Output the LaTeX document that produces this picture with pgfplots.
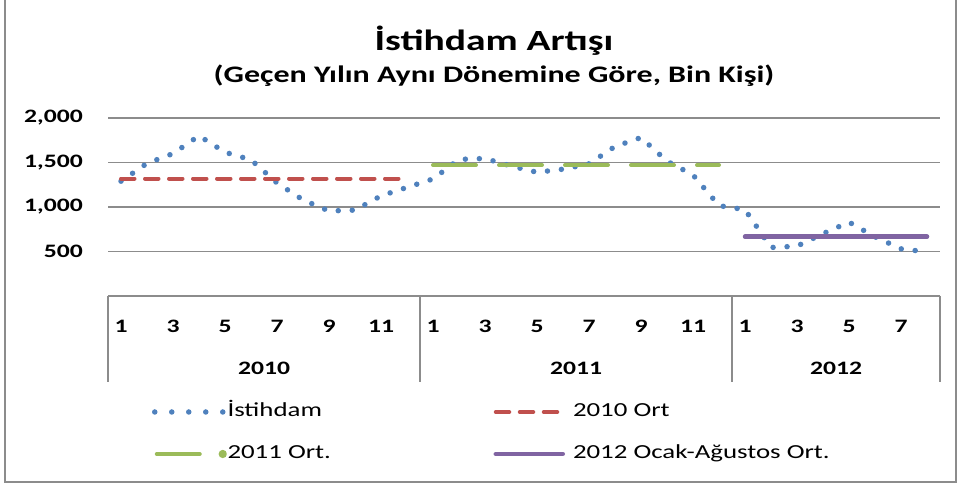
\documentclass[border=0pt]{standalone}
\usepackage{pgfplots}
\pgfplotsset{compat=1.18}
\usepackage{fontspec}
\setmainfont{Carlito}[FakeStretch=1.35]
\definecolor{cBlue}{HTML}{4F81BD}
\definecolor{cRed}{HTML}{C0504D}
\definecolor{cGreen}{HTML}{9BBB59}
\definecolor{cPurple}{HTML}{8064A2}
\definecolor{cGrid}{HTML}{8C8C8C}
\definecolor{cFrame}{HTML}{8C8C8C}
\begin{document}
\begin{tikzpicture}[x=1bp,y=1bp]
\useasboundingbox (0,0) rectangle (960,485);
\draw[color=cFrame, line width=1.5bp] (5,485) -- (5,3) -- (956,3) -- (956,485);
\node[anchor=base, font=\bfseries\fontsize{29.3bp}{34bp}\selectfont] at (494,434) {İstihdam Artışı};
\node[anchor=base, font=\bfseries\fontsize{23.7bp}{28bp}\selectfont] at (494,402) {(Geçen Yılın Aynı Dönemine Göre, Bin Kişi)};
\begin{axis}[
  at={(108bp,189bp)}, anchor=south west,
  scale only axis, width=832bp, height=178bp,
  xmin=0.5, xmax=32.5, ymin=0, ymax=2000,
  clip=false,
  axis line style={draw=none},
  major tick length=0pt,
  ytick={500,1000,1500,2000},
  yticklabels={500,{1,000},{1,500},{2,000}},
  xtick={1,3,...,31},
  xticklabels={1,3,5,7,9,11,1,3,5,7,9,11,1,3,5,7},
  ymajorgrids, grid style={color=cGrid, line width=1.5bp},
  /pgf/number format/assume math mode=true,
  ticklabel style={font=\bfseries\fontsize{19bp}{22bp}\selectfont, inner sep=0pt},
  yticklabel style={anchor=east, xshift=-25bp},
  xticklabel style={anchor=center, yshift=-30bp},
  legend columns=2,
  legend cell align=left,
  legend style={at={(0,0)}, anchor=north west, xshift=44bp, yshift=-107bp,
    draw=none, fill=none, inner sep=0pt, outer sep=0pt, row sep=24bp, column sep=0pt,
    font=\fontsize{19.9bp}{24bp}\selectfont,
    nodes={inner sep=0pt, text height=14bp, text depth=4bp}},
]
\draw[cGrid, line width=1.5bp] (axis cs:0.5,0) -- (axis cs:32.5,0);
\pgfplotsinvokeforeach{0.5,12.5,24.5,32.5}{
  \draw[cGrid, line width=1.5bp] (axis cs:#1,0) -- ++(0pt,-86bp);
}
\node[font=\bfseries\fontsize{19bp}{22bp}\selectfont, anchor=center, yshift=-72bp] at (axis cs:6.5,0) {2010};
\node[font=\bfseries\fontsize{19bp}{22bp}\selectfont, anchor=center, yshift=-72bp] at (axis cs:18.5,0) {2011};
\node[font=\bfseries\fontsize{19bp}{22bp}\selectfont, anchor=center, yshift=-72bp] at (axis cs:28.5,0) {2012};

\addplot[cBlue, line width=5.5bp, line cap=round, line join=round, dash pattern=on 0bp off 14bp,
  legend image code/.code={\draw[cBlue, line width=5.5bp, line cap=round, dash pattern=on 0bp off 17bp] (0bp,0bp) -- (68.5bp,0bp); \path (70bp,0bp);}]
coordinates {
(1,1290) (2,1490) (3,1600) (4,1800) (5,1615) (6,1530) (7,1270) (8,1080)
(9,955) (10,965) (11,1125) (12,1220) (13,1315) (14,1535) (15,1545) (16,1460)
(17,1390) (18,1425) (19,1485) (20,1680) (21,1780) (22,1515) (23,1360) (24,1015)
(25,970) (26,545) (27,560) (28,700) (29,830) (30,665) (31,530) (32,495)
};
\addlegendentry{\makebox[264bp][l]{İstihdam}}

\addplot[cRed, line width=4bp, line cap=round, dash pattern=on 13.5bp off 10.5bp,
  legend image code/.code={\draw[cRed, line width=4bp, line cap=round, dash pattern=on 13.5bp off 10.5bp] (2bp,0bp) -- (67.5bp,0bp); \path (0bp,0bp) (77bp,0bp);}]
coordinates {(1,1320) (2,1320) (3,1320) (4,1320) (5,1320) (6,1320) (7,1320) (8,1320) (9,1320) (10,1320) (11,1320) (12,1320)};
\addlegendentry{2010 Ort}

\addplot[cGreen, line width=4bp, line cap=round, dash pattern=on 43bp off 23bp,
  legend image code/.code={\draw[cGreen, line width=4bp, line cap=round] (2bp,0bp) -- (46bp,0bp); \fill[cGreen] (68bp,0bp) circle (2bp); \path (0bp,0bp) (70bp,0bp);}]
coordinates {(13,1472) (14,1472) (15,1472) (16,1472) (17,1472) (18,1472) (19,1472) (20,1472) (21,1472) (22,1472) (23,1472) (24,1472)};
\addlegendentry{\makebox[264bp][l]{2011 Ort.}}

\addplot[cPurple, line width=4.5bp, line cap=round,
  legend image code/.code={\draw[cPurple, line width=4.5bp, line cap=round] (2bp,0bp) -- (69bp,0bp); \path (0bp,0bp) (77bp,0bp);}]
coordinates {(25,667) (26,667) (27,667) (28,667) (29,667) (30,667) (31,667) (32,667)};
\addlegendentry{2012 Ocak-Ağustos Ort.}
\end{axis}
\end{tikzpicture}
\end{document}
